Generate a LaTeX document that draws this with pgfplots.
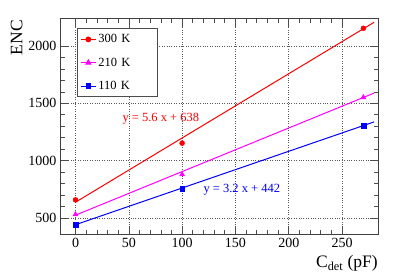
\documentclass[border=0pt]{standalone}
\usepackage{fontspec}
\setmainfont{Liberation Serif}
\usepackage{pgfplots}
\pgfplotsset{compat=1.18}
\definecolor{rred}{RGB}{255,0,0}
\definecolor{rmag}{RGB}{255,0,255}
\definecolor{rblue}{RGB}{0,0,255}
\begin{document}
\begin{tikzpicture}[x=1pt,y=1pt]
\useasboundingbox (0,0) rectangle (407,276);
\begin{axis}[
  at={(61pt,42pt)}, anchor=south west,
  scale only axis, width=317pt, height=215pt,
  xmin=-13.6, xmax=283.7, ymin=361, ymax=2235,
  xtick={0,50,100,150,200,250}, ytick={500,1000,1500,2000},
  minor x tick num=4, minor y tick num=4,
  tick align=inside,
  major tick length=8pt, minor tick length=4pt,
  every tick/.style={black!70, line width=0.6pt},
  axis line style={black!75, line width=1pt},
  grid=major,
  major grid style={dotted, black!65, line width=0.6pt},
  /pgf/number format/assume math mode=true,
  /pgf/number format/1000 sep={},
  tick label style={font=\fontsize{14}{16}\selectfont},
  xticklabel style={yshift=-1pt},
  yticklabel style={xshift=-1pt},
  xlabel={C\textsubscript{det} (pF)},
  ylabel={ENC},
  xlabel style={at={(axis description cs:1,-0.100)}, anchor=north east, inner sep=0pt, font=\fontsize{17.5}{20}\selectfont},
  ylabel style={at={(axis description cs:-0.140,0.995)}, anchor=east, inner sep=0pt, font=\fontsize{17.5}{20}\selectfont},
  legend style={at={(0.05,0.958)}, anchor=north west, draw=black!70, line width=1pt,
    font=\fontsize{12.5}{14}\selectfont, row sep=9.5pt, inner xsep=3pt, inner ysep=4pt,
    /tikz/every even column/.append style={text width=54pt, align=left}},
  legend cell align=left,
  legend image code/.code={\draw[mark repeat=2,mark phase=2,#1] plot coordinates {(0pt,0pt) (7.5pt,0pt) (15pt,0pt)};},
]
% fit lines
\addplot[rred, line width=1pt, forget plot] coordinates {(0,638) (280,2206)};
\addplot[rmag, line width=1pt, forget plot] coordinates {(0,525) (280,1589)};
\addplot[rblue, line width=1pt, forget plot] coordinates {(0,442) (280,1338)};
% data points
\addplot[rred, only marks, mark=*, mark size=2.5pt, forget plot] coordinates {(0,659) (100,1153) (270,2154)};
\addplot[rmag, only marks, mark=triangle*, mark size=2.9pt, forget plot] coordinates {(0,531) (100,880) (270,1552)};
\addplot[rblue, only marks, mark=square*, mark size=2.4pt, forget plot] coordinates {(0,444) (100,753) (270,1302)};
\addlegendimage{rred, line width=1pt, mark=*, mark size=2.4pt}
\addlegendentry{300 K}
\addlegendimage{rmag, line width=1pt, mark=triangle*, mark size=2.8pt}
\addlegendentry{210 K}
\addlegendimage{rblue, line width=1pt, mark=square*, mark size=2.3pt}
\addlegendentry{110 K}
\node[rred, font=\fontsize{12.5}{14}\selectfont] at (axis cs:80,1370) {y = 5.6 x + 638};
\node[rblue, font=\fontsize{12.5}{14}\selectfont] at (axis cs:156,750) {y = 3.2 x + 442};
\end{axis}
\end{tikzpicture}
\end{document}
